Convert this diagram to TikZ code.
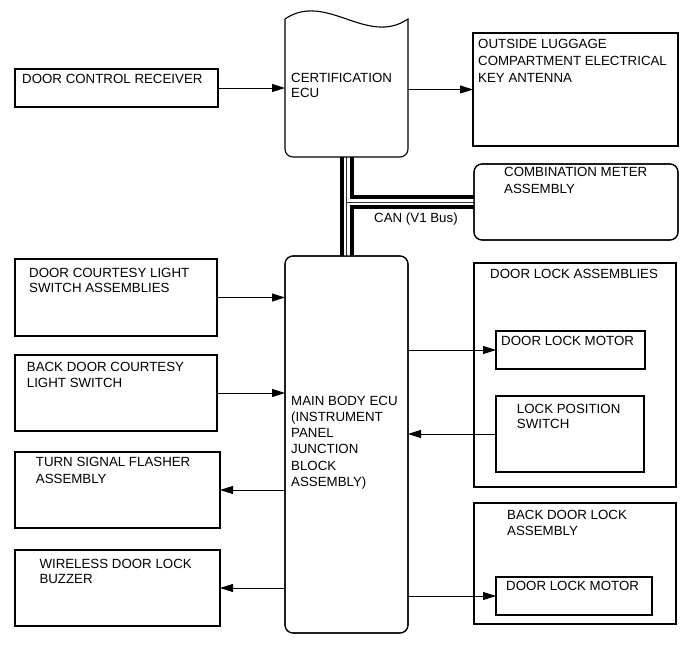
\documentclass[tikz,border=0pt]{standalone}
\usepackage{fontspec}
\setmainfont{Liberation Sans}
\usetikzlibrary{arrows.meta}
\newcommand{\ml}[2][16]{\vtop{\baselineskip=#1pt\halign{##\hfil\cr#2\crcr}}}
\begin{document}
\begin{tikzpicture}[x=1pt,y=-1pt,
  box/.style={draw, line width=1.1pt, outer sep=0pt, inner sep=0pt, anchor=north west},
  rbox/.style={box, rounded corners=8pt},
  ghost/.style={outer sep=0pt, inner sep=0pt, anchor=north west},
  txt/.style={anchor=base west, inner sep=0pt, font=\fontsize{13.3}{16}\selectfont},
  arr/.style={line width=0.9pt, -{Triangle[length=13pt,width=8pt]}},
  busout/.style={line width=14pt},
  busin/.style={line width=6pt, white},
  busmid/.style={line width=0.7pt, black!80}]
\useasboundingbox (0,0) rectangle (691,660);

% invisible anchors for the ECUs
\node[ghost, minimum width=123pt, minimum height=138pt] (cert) at (285,19) {};
\node[rbox, minimum width=123pt, minimum height=377pt] (main) at (285,256) {};
\node[rbox, minimum width=204pt, minimum height=76pt] (comb) at (474,164) {};

% CAN bus
\draw[busout] (cert.south) -- (main.north);
\draw[busout] (cert.south |- comb.west) -- (comb.west);
\draw[busin] (cert.south) -- (main.north);
\draw[busin] (cert.south |- comb.west) -- (comb.west);
\draw[busmid] (cert.south) -- (main.north);
\draw[busmid] (cert.south |- comb.west) -- (comb.west);

% certification ECU outline (wavy top) and borders over bus ends
\draw[line width=1.1pt] (cert.north west) .. controls +(41,-28) and +(-41,28) .. (cert.north east) [rounded corners=8pt] -- (cert.south east) -- (cert.south west) -- (cert.north west);
\node[rbox, minimum width=123pt, minimum height=377pt] at (285,256) {};
\node[rbox, minimum width=204pt, minimum height=76pt] at (474,164) {};

% boxes
\node[box, minimum width=203pt, minimum height=38pt] (dcr) at (15,69) {};
\node[box, minimum width=205pt, minimum height=113pt] (olk) at (473,33) {};
\node[box, minimum width=202pt, minimum height=77pt] (dcl) at (15,259) {};
\node[box, minimum width=202pt, minimum height=76pt] (bdc) at (15,355) {};
\node[box, minimum width=205pt, minimum height=76pt] (tsf) at (15,452) {};
\node[box, minimum width=205pt, minimum height=76pt] (wdl) at (15,550) {};
\node[box, minimum width=202pt, minimum height=224pt] (dla) at (474,263) {};
\node[box, minimum width=149pt, minimum height=38pt] (dlm1) at (496,331) {};
\node[box, minimum width=148pt, minimum height=76pt] (lps) at (496,396) {};
\node[box, minimum width=202pt, minimum height=121pt] (bdl) at (474,503) {};
\node[box, minimum width=156pt, minimum height=38pt] (dlm2) at (496,577) {};

% texts
\node[txt] (tdcr) at (22,84) {DOOR CONTROL RECEIVER};
\node[txt] (tcert) at (291,82.7) {\ml[15.3]{CERTIFICATION\cr ECU}};
\node[txt] (tolk) at (478,48.3) {\ml[17]{OUTSIDE LUGGAGE\cr COMPARTMENT ELECTRICAL\cr KEY ANTENNA}};
\node[txt] (tcomb) at (504,176.7) {\ml[17.3]{COMBINATION METER\cr ASSEMBLY}};
\node[txt] (tcan) at (374,222.7) {CAN (V1 Bus)};
\node[txt] (tdcl) at (29,277.3) {\ml[15]{DOOR COURTESY LIGHT\cr SWITCH ASSEMBLIES}};
\node[txt] (tbdc) at (26.7,371.7) {\ml[15.7]{BACK DOOR COURTESY\cr LIGHT SWITCH}};
\node[txt] (ttsf) at (35.7,466.7) {\ml[16.6]{TURN SIGNAL FLASHER\cr ASSEMBLY}};
\node[txt] (twdl) at (39.3,568.3) {\ml[15]{WIRELESS DOOR LOCK\cr BUZZER}};
\node[txt] (tmain) at (291,405) {\ml[16.3]{MAIN BODY ECU\cr (INSTRUMENT\cr PANEL\cr JUNCTION\cr BLOCK\cr ASSEMBLY)}};
\node[txt] (tdla) at (490,278.3) {DOOR LOCK ASSEMBLIES};
\node[txt] (tdlm1) at (501,345) {DOOR LOCK MOTOR};
\node[txt] (tlps) at (516.7,413.3) {\ml[15]{LOCK POSITION\cr SWITCH}};
\node[txt] (tbdl) at (507,519.3) {\ml[15.7]{BACK DOOR LOCK\cr ASSEMBLY}};
\node[txt] (tdlm2) at (506,590) {DOOR LOCK MOTOR};

% connectors
\draw[arr] (dcr.east) -- (dcr.east -| cert.west);
\draw[arr] (cert.east |- olk.west) -- (olk.west);
\draw[arr] (dcl.east) -- (dcl.east -| main.west);
\draw[arr] (bdc.east) -- (bdc.east -| main.west);
\draw[arr] (tsf.east -| main.west) -- (tsf.east);
\draw[arr] (wdl.east -| main.west) -- (wdl.east);
\draw[arr] (main.east |- dlm1.west) -- (dlm1.west);
\draw[arr] (lps.west) -- (lps.west -| main.east);
\draw[arr] (main.east |- dlm2.west) -- (dlm2.west);
\end{tikzpicture}
\end{document}
